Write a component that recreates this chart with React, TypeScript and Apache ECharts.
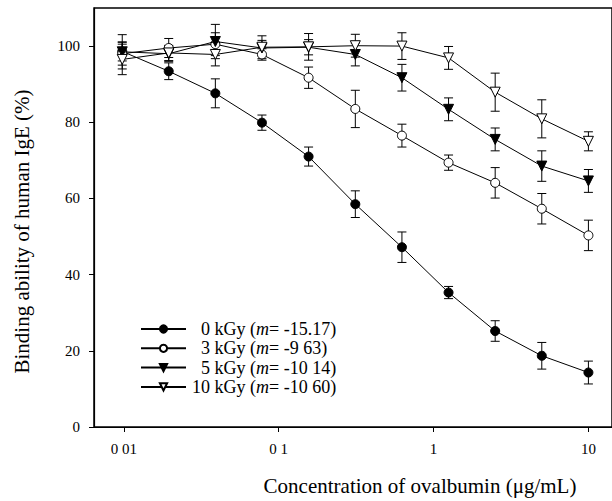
import React, { useEffect, useRef } from "react";
import * as echarts from "echarts";

const concentrations = [0.00977, 0.0195, 0.039, 0.078, 0.156, 0.3125, 0.625, 1.25, 2.5, 5, 10];
const seriesNames = ["0 kGy", "3 kGy", "5 kGy", "10 kGy"];
const doseNumbers = ["0", "3", "5", "10"];
const slopeLabels = ["-15.17", "-9 63", "-10 14", "-10 60"];
const binding0 = [98.6, 93.4, 87.6, 79.9, 71.0, 58.5, 47.2, 35.3, 25.2, 18.7, 14.3];
const err0 = [2.5, 2.2, 3.8, 2.0, 2.5, 3.5, 4.0, 1.6, 2.7, 3.5, 3.0];
const binding3 = [98.0, 99.5, 100.5, 97.8, 91.7, 83.5, 76.5, 69.4, 64.1, 57.3, 50.3];
const err3 = [3.0, 2.5, 3.0, 1.5, 2.8, 4.9, 3.0, 2.0, 4.0, 4.0, 4.0];
const binding5 = [98.5, 98.0, 101.2, 99.5, 99.7, 97.8, 91.7, 83.4, 75.5, 68.5, 64.6];
const err5 = [4.5, 2.0, 4.5, 2.0, 2.0, 3.0, 3.5, 3.0, 3.0, 4.0, 3.0];
const binding10 = [96.5, 98.2, 97.8, 99.7, 99.8, 100.1, 100.0, 96.9, 87.9, 80.9, 75.0];
const err10 = [4.0, 2.0, 3.0, 3.0, 3.5, 3.0, 3.5, 3.0, 5.0, 5.0, 2.5];
const xTickValues = [0.01, 0.1, 1, 10];
const xTickLabels = ["0 01", "0 1", "1", "10"];
const yTickValues = [0, 20, 40, 60, 80, 100];

const FONT = "Liberation Serif";

export default function App() {
  const ref = useRef<HTMLDivElement>(null);
  useEffect(() => {
    document.body.style.margin = "0";
    const chart = echarts.init(ref.current!, null, { renderer: "svg" });
    const values = [binding0, binding3, binding5, binding10];
    const errors = [err0, err3, err5, err10];
    const symbols = ["circle", "circle", "triangle", "triangle"];
    const sizes = [9, 9, 10, 10];
    const rotates = [0, 0, 180, 180];
    const fills = ["#000", "#fff", "#000", "#fff"];

    const lineSeries = seriesNames.map((name, k) => ({
      name,
      type: "line",
      data: concentrations.map((c, i) => [c, values[k][i]]),
      symbol: symbols[k],
      symbolSize: sizes[k],
      symbolRotate: rotates[k],
      showAllSymbol: true,
      lineStyle: { color: "#000", width: 1 },
      itemStyle: { color: fills[k], borderColor: "#000", borderWidth: 1 },
      z: 5 + k,
    }));

    const errorSeries = seriesNames.map((name, k) => ({
      name: name + " err",
      type: "custom",
      data: concentrations.map((c, i) => [c, values[k][i], errors[k][i]]),
      encode: { x: 0, y: 1 },
      z: 3,
      renderItem: (params: any, api: any) => {
        const x = api.value(0);
        const y = api.value(1);
        const e = api.value(2);
        const top = api.coord([x, y + e]);
        const bot = api.coord([x, y - e]);
        const hw = 4.5;
        const style = { stroke: "#000", lineWidth: 1 };
        return {
          type: "group",
          children: [
            { type: "line", shape: { x1: top[0], y1: top[1], x2: bot[0], y2: bot[1] }, style },
            { type: "line", shape: { x1: top[0] - hw, y1: top[1], x2: top[0] + hw, y2: top[1] }, style },
            { type: "line", shape: { x1: bot[0] - hw, y1: bot[1], x2: bot[0] + hw, y2: bot[1] }, style },
          ],
        };
      },
    }));

    const base = { fontFamily: FONT, fontSize: 18, color: "#000" };
    const rich = {
      n1: { ...base, padding: [0, 0, 0, 10] },
      n2: { ...base, padding: [0, 0, 0, 1] },
      t: { ...base },
      i: { ...base, fontStyle: "italic" },
    };

    chart.setOption({
      animation: false,
      backgroundColor: "#fff",
      grid: {
        left: 94,
        top: 8,
        width: 522,
        height: 420,
        show: true,
        borderColor: "#000",
        borderWidth: 1.5,
        backgroundColor: "transparent",
      },
      legend: {
        data: seriesNames,
        orient: "vertical",
        left: 135,
        top: 315,
        itemWidth: 45,
        itemHeight: 9,
        itemGap: 1.3,
        textStyle: { ...base, rich },
        formatter: (name: string) => {
          const k = seriesNames.indexOf(name);
          const key = doseNumbers[k].length > 1 ? "n2" : "n1";
          return `{${key}|${doseNumbers[k]}}{t| kGy (}{i|m}{t|= ${slopeLabels[k]})}`;
        },
      },
      xAxis: {
        type: "log",
        logBase: 10,
        min: 0.00642,
        max: 14.2,
        name: "Concentration of ovalbumin (μg/mL)",
        nameLocation: "middle",
        nameGap: 48,
        nameTextStyle: { fontFamily: FONT, fontSize: 21, color: "#000", padding: [0, 0, 0, 134] },
        axisLine: { show: true, lineStyle: { color: "#000", width: 1.2 } },
        axisTick: { show: true, inside: false, length: 5, customValues: xTickValues, lineStyle: { color: "#000" } },
        minorTick: { show: false },
        splitLine: { show: false },
        axisLabel: {
          customValues: xTickValues,
          margin: 14,
          fontFamily: FONT,
          fontSize: 15,
          color: "#000",
          formatter: (v: number) => {
            const idx = xTickValues.findIndex((t) => Math.abs(Math.log10(t) - Math.log10(v)) < 1e-6);
            return idx >= 0 ? xTickLabels[idx] : "";
          },
        },
      },
      yAxis: {
        type: "value",
        min: 0,
        max: 110,
        interval: 20,
        name: "Binding ability of human IgE (%)",
        nameLocation: "middle",
        nameGap: 62,
        nameTextStyle: { fontFamily: FONT, fontSize: 21, color: "#000", padding: [0, 28, 0, 0] },
        axisLine: { show: true, lineStyle: { color: "#000", width: 1.2 } },
        axisTick: { show: true, inside: false, length: 5, customValues: yTickValues, lineStyle: { color: "#000" } },
        splitLine: { show: false },
        axisLabel: {
          customValues: yTickValues,
          margin: 14,
          fontFamily: FONT,
          fontSize: 15,
          color: "#000",
        },
      },
      series: [...errorSeries, ...lineSeries],
    });
    return () => chart.dispose();
  }, []);
  return <div ref={ref} style={{ width: 612, height: 501 }} />;
}
